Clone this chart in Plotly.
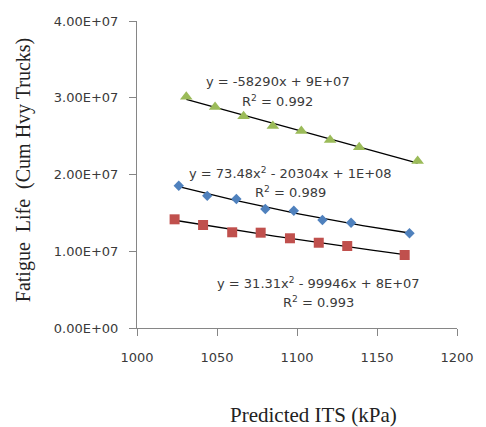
import numpy as np
import plotly.graph_objects as go

# Predicted ITS (kPa) vs. fatigue life for three mixes
its_diamond = [1026.1, 1043.9, 1062.1, 1080.2, 1098.0, 1115.9, 1133.8, 1170.3]
life_diamond = [1.854e7, 1.722e7, 1.681e7, 1.551e7, 1.528e7, 1.407e7, 1.372e7, 1.234e7]

its_square = [1023.5, 1041.3, 1059.5, 1077.3, 1095.6, 1113.6, 1131.4, 1167.3]
life_square = [1.416e7, 1.342e7, 1.247e7, 1.242e7, 1.169e7, 1.111e7, 1.068e7, 0.951e7]

its_triangle = [1030.8, 1048.8, 1066.6, 1084.9, 1102.7, 1120.7, 1138.9, 1175.4]
life_triangle = [3.014e7, 2.880e7, 2.758e7, 2.632e7, 2.567e7, 2.450e7, 2.354e7, 2.176e7]

x_ticks = [1000, 1050, 1100, 1150, 1200]
y_ticks = [0, 1e7, 2e7, 3e7, 4e7]
y_tick_text = ["0.00E+00", "1.00E+07", "2.00E+07", "3.00E+07", "4.00E+07"]

eq_diamond = ["y = 73.48x<sup>2</sup> - 20304x + 1E+08", "R<sup>2</sup> = 0.989"]
eq_square = ["y = 31.31x<sup>2</sup> - 99946x + 8E+07", "R<sup>2</sup> = 0.993"]
eq_triangle = ["y = -58290x + 9E+07", "R<sup>2</sup> = 0.992"]

BLUE = "#4F81BD"
RED = "#C0504D"
GREEN = "#9BBB59"
TEXT = "#3a3a3a"
AXIS = "#868686"

fig = go.Figure()


def trend(xs, ys, deg):
    coef = np.polyfit(xs, ys, deg)
    xx = np.linspace(min(xs), max(xs), 60)
    return xx, np.polyval(coef, xx)


for xs, ys, deg in [(its_diamond, life_diamond, 2),
                    (its_square, life_square, 2),
                    (its_triangle, life_triangle, 1)]:
    tx, ty = trend(xs, ys, deg)
    fig.add_trace(go.Scatter(x=tx, y=ty, mode="lines",
                             line=dict(color="black", width=1.3),
                             showlegend=False, hoverinfo="skip"))

fig.add_trace(go.Scatter(x=its_diamond, y=life_diamond, mode="markers",
                         marker=dict(symbol="diamond", size=8, color=BLUE,
                                     line=dict(width=0)), showlegend=False))
fig.add_trace(go.Scatter(x=its_square, y=life_square, mode="markers",
                         marker=dict(symbol="square", size=10, color=RED,
                                     line=dict(width=0)), showlegend=False))
fig.add_trace(go.Scatter(x=its_triangle, y=life_triangle, mode="markers",
                         marker=dict(symbol="triangle-up", size=11, color=GREEN,
                                     line=dict(width=0)), showlegend=False))

eq_font = dict(family="DejaVu Sans", size=13, color=TEXT)
labels = [
    (1088.1, 3.209e7, eq_triangle[0]), (1088.1, 2.958e7, eq_triangle[1]),
    (1096.0, 2.020e7, eq_diamond[0]), (1096.0, 1.772e7, eq_diamond[1]),
    (1113.6, 0.586e7, eq_square[0]), (1113.6, 0.339e7, eq_square[1]),
]
for lx, ly, txt in labels:
    fig.add_annotation(x=lx, y=ly, text=txt, showarrow=False, font=eq_font,
                       xanchor="center", yanchor="middle")

title_font = dict(family="Liberation Serif", size=20, color="#222222")
fig.add_annotation(xref="paper", yref="paper", x=(318 - 137) / 329,
                   y=-(415 - 328) / 307, text="Predicted ITS (kPa)",
                   showarrow=False, font=dict(title_font, size=21),
                   xanchor="center", yanchor="middle")
fig.add_annotation(xref="paper", yref="paper", x=-(137 - 20) / 329,
                   y=(328 - 170) / 307,
                   text="Fatigue\u00a0\u00a0Life\u00a0\u00a0(Cum Hvy Trucks)",
                   textangle=-90, showarrow=False, font=title_font,
                   xanchor="center", yanchor="middle")

tick_font = dict(family="DejaVu Sans", size=13, color=TEXT)
fig.update_xaxes(range=[1000, 1200], tickvals=x_ticks, ticks="outside",
                 ticklen=7, tickcolor=AXIS, showline=True, linecolor=AXIS,
                 linewidth=1, showgrid=False, zeroline=False,
                 tickfont=tick_font, ticklabelstandoff=10)
fig.update_yaxes(range=[0, 4e7], tickvals=y_ticks, ticktext=y_tick_text,
                 ticks="outside", ticklen=7, tickcolor=AXIS, showline=True,
                 linecolor=AXIS, linewidth=1, showgrid=False, zeroline=False,
                 tickfont=tick_font, ticklabelstandoff=8)

fig.update_layout(width=486, height=427,
                  margin=dict(l=137, r=20, t=21, b=99),
                  paper_bgcolor="white", plot_bgcolor="white")

fig.write_html("out.html")
